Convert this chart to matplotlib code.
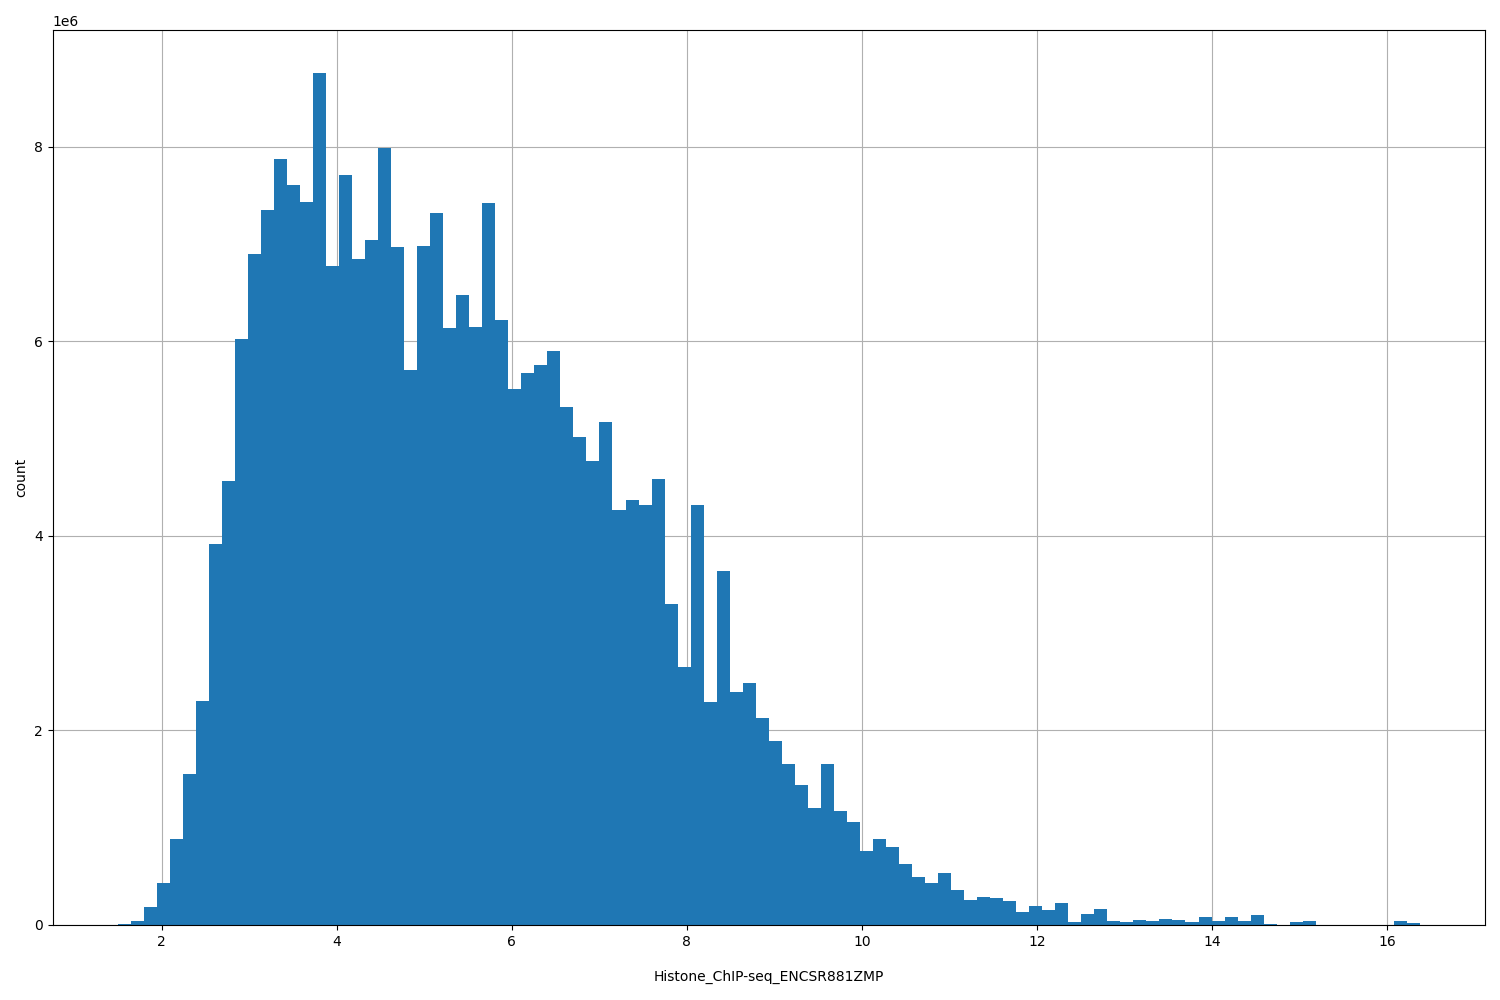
import numpy as np
import matplotlib
matplotlib.use("Agg")
import matplotlib.pyplot as plt

data_min = 1.498
data_max = 16.376
n_bins = 100
counts_m = [0.01,0.04,0.185,0.43,0.88,1.55,2.30,3.92,4.56,6.02,
            6.90,7.35,7.87,7.60,7.43,8.76,6.77,7.71,6.84,7.04,
            7.99,6.97,5.70,6.98,7.32,6.14,6.47,6.15,7.42,6.22,
            5.51,5.67,5.76,5.90,5.32,5.02,4.77,5.17,4.26,4.37,
            4.32,4.58,3.30,2.65,4.32,2.29,3.64,2.39,2.49,2.13,
            1.89,1.65,1.44,1.20,1.65,1.17,1.06,0.76,0.88,0.80,
            0.63,0.49,0.43,0.53,0.36,0.26,0.29,0.28,0.25,0.13,
            0.20,0.15,0.23,0.03,0.11,0.16,0.04,0.03,0.05,0.04,
            0.06,0.05,0.03,0.08,0.04,0.08,0.04,0.10,0.01,0.0,
            0.03,0.04,0.0,0.0,0.0,0.0,0.0,0.0,0.04,0.02]

edges = np.linspace(data_min, data_max, n_bins + 1)
counts = np.array(counts_m) * 1e6

fig, ax = plt.subplots(figsize=(15, 10), dpi=100)
ax.hist(edges[:-1], bins=edges, weights=counts, color="#1f77b4", zorder=2)
ax.grid(True, zorder=0)
ax.set_axisbelow(True)
ax.set_xlabel("Histone_ChIP-seq_ENCSR881ZMP", labelpad=15)
ax.set_ylabel("count")
fig.subplots_adjust(left=0.035, right=0.99, top=0.97, bottom=0.075)
fig.savefig("out.png")
